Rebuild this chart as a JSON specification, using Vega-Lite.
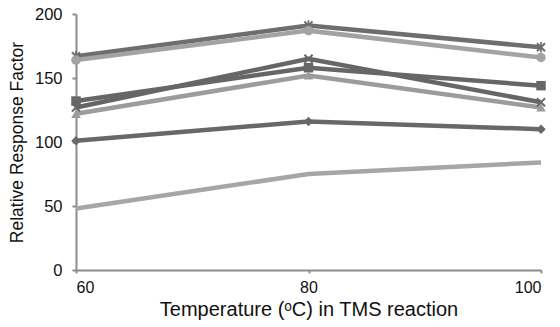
{
  "$schema": "https://vega.github.io/schema/vega-lite/v6.json",
  "width": 465,
  "height": 256,
  "autosize": {"type": "none"},
  "padding": {"left": 76, "top": 14, "right": 19, "bottom": 57},
  "background": "white",
  "config": {
    "view": {"stroke": null},
    "font": "Liberation Sans",
    "axis": {"grid": false, "domainColor": "#8c8c8c", "tickColor": "#8c8c8c", "domainWidth": 2, "tickWidth": 2, "labelColor": "#111111", "titleColor": "#111111", "labelFont": "Liberation Sans", "titleFont": "Liberation Sans", "titleFontWeight": "normal"}
  },
  "data": {
    "values": [
      {"series": "s1", "temp": 60, "rf": 167}, {"series": "s1", "temp": 80, "rf": 191}, {"series": "s1", "temp": 100, "rf": 174},
      {"series": "s2", "temp": 60, "rf": 164}, {"series": "s2", "temp": 80, "rf": 187}, {"series": "s2", "temp": 100, "rf": 166},
      {"series": "s3", "temp": 60, "rf": 127}, {"series": "s3", "temp": 80, "rf": 165}, {"series": "s3", "temp": 100, "rf": 131},
      {"series": "s4", "temp": 60, "rf": 132}, {"series": "s4", "temp": 80, "rf": 158}, {"series": "s4", "temp": 100, "rf": 144},
      {"series": "s5", "temp": 60, "rf": 122}, {"series": "s5", "temp": 80, "rf": 152}, {"series": "s5", "temp": 100, "rf": 127},
      {"series": "s6", "temp": 60, "rf": 101}, {"series": "s6", "temp": 80, "rf": 116}, {"series": "s6", "temp": 100, "rf": 110},
      {"series": "s7", "temp": 60, "rf": 48}, {"series": "s7", "temp": 80, "rf": 75}, {"series": "s7", "temp": 100, "rf": 84}
    ]
  },
  "encoding": {
    "x": {"field": "temp", "type": "quantitative", "scale": {"domain": [60, 100], "nice": false},
      "axis": {"values": [60, 80, 100], "title": "Temperature (ᵒC) in TMS reaction", "labelFontSize": 16, "titleFontSize": 20, "tickSize": 3, "labelPadding": 6, "titlePadding": 4}},
    "y": {"field": "rf", "type": "quantitative", "scale": {"domain": [0, 200], "nice": false},
      "axis": {"values": [0, 50, 100, 150, 200], "title": "Relative Response Factor", "labelFontSize": 16.5, "titleFontSize": 17.5, "tickSize": 4, "labelPadding": 10, "titlePadding": 8}},
    "color": {"field": "series", "type": "nominal", "legend": null,
      "scale": {"domain": ["s1", "s2", "s3", "s4", "s5", "s6", "s7"], "range": ["#6e6e6e", "#a3a3a3", "#666666", "#666666", "#9c9c9c", "#686868", "#a6a6a6"]}}
  },
  "layer": [
    {"mark": {"type": "line", "strokeWidth": 4.5}, "encoding": {"detail": {"field": "series"}}},
    {"transform": [{"filter": "datum.series != 's7'"}],
      "mark": {"type": "point", "filled": true, "opacity": 1, "size": 90},
      "encoding": {"shape": {"field": "series", "type": "nominal", "legend": null,
        "scale": {"domain": ["s1", "s2", "s3", "s4", "s5", "s6"],
          "range": ["M-1,-0.7L-0.7,-1L0,-0.3L0.7,-1L1,-0.7L0.3,0L1,0.7L0.7,1L0,0.3L-0.7,1L-1,0.7L-0.3,0ZM-0.18,-1.1H0.18V1.1H-0.18Z", "circle", "M-1,-0.7L-0.7,-1L0,-0.3L0.7,-1L1,-0.7L0.3,0L1,0.7L0.7,1L0,0.3L-0.7,1L-1,0.7L-0.3,0Z", "square", "triangle-up", "diamond"]}}}}
  ]
}
